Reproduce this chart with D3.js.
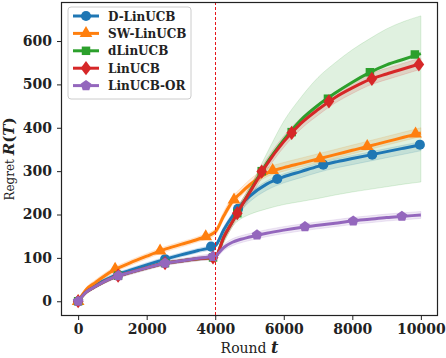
<!DOCTYPE html>
<html>
<head>
<meta charset="utf-8">
<script src="https://cdn.jsdelivr.net/npm/d3@7"></script>
<style>
  body { margin: 0; background: #fff; }
  svg { display: block; }
</style>
</head>
<body>
<div id="chart"></div>
<script>
// rounds where every curve is sampled
let rounds = [0, 250, 500, 1000, 1500, 2000, 2500, 3000, 3500, 4000, 4250, 4500, 4750, 5000, 5500, 6000, 6500, 7000, 7500, 8000, 8500, 9000, 9500, 10000]

let names = ['D-LinUCB', 'SW-LinUCB', 'dLinUCB', 'LinUCB', 'LinUCB-OR']
let colors = ['#1f77b4', '#ff7f0e', '#2ca02c', '#d62728', '#9467bd']
let shapes = ['circle', 'triangle', 'square', 'diamond', 'pentagon']

// mean regret
let dlinMean = [0, 24, 37, 57, 71, 84, 96, 107, 117, 128, 165, 196, 222, 242, 270, 287, 299, 311, 321, 329, 337, 345, 353, 361]
let swMean = [0, 28, 43, 70, 88, 104, 119, 131, 143, 160, 197, 230, 250, 268, 295, 308, 318, 328, 338, 348, 358, 368, 378, 388]
let dlinucbMean = [0, 22, 34, 54, 66, 77, 87, 93, 98, 102, 148, 183, 218, 252, 318, 372, 418, 452, 480, 505, 527, 545, 558, 571]
let linMean = [0, 22, 34, 54, 66, 77, 87, 93, 98, 102, 148, 183, 218, 250, 315, 368, 410, 442, 470, 492, 511, 524, 536, 548]
let orMean = [0, 22, 34, 54, 66, 77, 87, 93, 99, 105, 124, 136, 143, 148, 157, 164, 170, 175, 180, 185, 189, 193, 196, 199]

// shaded bands (lower / upper)
let dlinLo = [0, 20, 33, 52, 66, 79, 91, 102, 112, 123, 156, 184, 209, 229, 256, 273, 285, 297, 307, 315, 323, 331, 339, 347]
let dlinHi = [0, 28, 41, 62, 76, 89, 101, 112, 122, 133, 172, 203, 229, 249, 277, 294, 306, 318, 328, 336, 344, 352, 360, 368]
let swLo = [0, 23, 37, 64, 82, 98, 113, 125, 137, 153, 189, 222, 242, 260, 287, 300, 310, 320, 330, 340, 350, 360, 370, 380]
let swHi = [0, 33, 49, 76, 94, 110, 125, 137, 149, 167, 207, 241, 261, 280, 307, 320, 330, 340, 350, 360, 370, 380, 390, 400]
let dlinucbLo = [0, 18, 30, 50, 62, 73, 83, 89, 94, 98, 135, 172, 190, 200, 213, 223, 230, 237, 245, 252, 258, 264, 270, 275]
let dlinucbHi = [0, 26, 38, 58, 70, 81, 91, 97, 102, 106, 152, 195, 230, 262, 340, 415, 470, 516, 550, 580, 605, 628, 645, 658]
let linLo = [0, 18, 30, 50, 62, 73, 83, 89, 94, 97, 138, 172, 206, 237, 302, 355, 397, 429, 457, 479, 498, 511, 523, 535]
let linHi = [0, 26, 38, 58, 70, 81, 91, 97, 102, 107, 158, 194, 230, 263, 328, 381, 423, 455, 483, 505, 524, 537, 549, 561]
let orLo = [0, 18, 30, 49, 61, 72, 82, 88, 93, 99, 117, 128, 135, 140, 149, 156, 162, 167, 172, 177, 181, 185, 188, 191]
let orHi = [0, 26, 38, 59, 71, 82, 92, 98, 105, 111, 131, 144, 151, 156, 165, 172, 178, 183, 188, 193, 197, 201, 204, 207]

// marker positions
let dlinMarkX = [0, 1166, 2536, 3878, 4665, 5810, 7152, 8580, 9971]
let dlinMarkY = [0, 61, 97, 126, 213, 282, 315, 338, 361]
let swMarkX = [0, 1079, 2391, 3723, 4548, 5676, 7055, 8435, 9845]
let swMarkY = [0, 74, 116, 149, 234, 302, 329, 357, 386]
let dlinucbMarkX = [0, 1166, 2536, 3936, 4644, 5356, 6230, 7289, 8513, 9825]
let dlinucbMarkY = [0, 59, 88, 101, 203, 300, 390, 467, 528, 569]
let linMarkX = [0, 1166, 2536, 3936, 4644, 5356, 6230, 7318, 8571, 9942]
let linMarkY = [0, 59, 88, 101, 203, 299, 388, 461, 513, 546]
let orMarkX = [0, 1175, 2536, 3936, 5219, 6618, 8026, 9446]
let orMarkY = [0, 59, 88, 103, 153, 172, 185, 196]

let xTicks = [0, 2000, 4000, 6000, 8000, 10000]
let yTicks = [0, 100, 200, 300, 400, 500, 600]
let changePoint = 4000

let series = [
  { mean: dlinMean, lo: dlinLo, hi: dlinHi, mx: dlinMarkX, my: dlinMarkY },
  { mean: swMean, lo: swLo, hi: swHi, mx: swMarkX, my: swMarkY },
  { mean: dlinucbMean, lo: dlinucbLo, hi: dlinucbHi, mx: dlinucbMarkX, my: dlinucbMarkY },
  { mean: linMean, lo: linLo, hi: linHi, mx: linMarkX, my: linMarkY },
  { mean: orMean, lo: orLo, hi: orHi, mx: orMarkX, my: orMarkY }
]
series.forEach(function (s, i) {
  s.name = names[i]
  s.color = colors[i]
  s.shape = shapes[i]
})

let width = 446
let height = 358
let margin = { left: 61, right: 8, top: 2, bottom: 42 }

let svg = d3
  .select('#chart')
  .append('svg')
  .attr('width', width)
  .attr('height', height)

let x = d3
  .scaleLinear()
  .domain([-500, 10500])
  .range([margin.left, width - margin.right])
let y = d3
  .scaleLinear()
  .domain([-34, 690])
  .range([height - margin.bottom, margin.top])

svg
  .append('clipPath')
  .attr('id', 'plot-clip')
  .append('rect')
  .attr('x', margin.left)
  .attr('y', margin.top)
  .attr('width', width - margin.left - margin.right)
  .attr('height', height - margin.top - margin.bottom)

let plot = svg.append('g').attr('clip-path', 'url(#plot-clip)')

let area = d3
  .area()
  .x(function (d) { return x(d.r) })
  .y0(function (d) { return y(d.lo) })
  .y1(function (d) { return y(d.hi) })
  .curve(d3.curveMonotoneX)

let line = d3
  .line()
  .x(function (d) { return x(d.r) })
  .y(function (d) { return y(d.v) })
  .curve(d3.curveMonotoneX)

function symbolFor(shape, size) {
  if (shape === 'pentagon') {
    // regular pentagon
    let r = Math.sqrt(size / 2.38)
    let pts = d3.range(5).map(function (k) {
      let a = -Math.PI / 2 + (k * 2 * Math.PI) / 5
      return [r * Math.cos(a), r * Math.sin(a)]
    })
    return 'M' + pts.join('L') + 'Z'
  }
  if (shape === 'diamond') {
    // thin diamond like matplotlib 'D'
    let r = Math.sqrt(size) * 0.75
    return 'M0,' + -r + 'L' + r * 0.75 + ',0L0,' + r + 'L' + -r * 0.75 + ',0Z'
  }
  let types = { circle: d3.symbolCircle, triangle: d3.symbolTriangle, square: d3.symbolSquare }
  return d3.symbol().type(types[shape]).size(size)()
}

let markerSize = { circle: 80, triangle: 70, square: 72, diamond: 90, pentagon: 75 }

// bands first
series.forEach(function (s) {
  let pts = rounds.map(function (r, k) {
    return { r: r, lo: s.lo[k], hi: s.hi[k] }
  })
  plot
    .append('path')
    .datum(pts)
    .attr('d', area)
    .attr('fill', s.color)
    .attr('fill-opacity', 0.15)
    .attr('stroke', s.color)
    .attr('stroke-opacity', 0.15)
    .attr('stroke-width', 1)
})

// lines and markers
series.forEach(function (s) {
  let pts = rounds.map(function (r, k) {
    return { r: r, v: s.mean[k] }
  })
  plot
    .append('path')
    .datum(pts)
    .attr('d', line)
    .attr('fill', 'none')
    .attr('stroke', s.color)
    .attr('stroke-width', 3)
    .attr('stroke-linejoin', 'round')

  plot
    .selectAll('.mk-' + s.shape)
    .data(s.mx.map(function (mx, k) { return { r: mx, v: s.my[k] } }))
    .enter()
    .append('path')
    .attr('class', 'mk-' + s.shape)
    .attr('transform', function (d) {
      return 'translate(' + x(d.r) + ',' + y(d.v) + ')'
    })
    .attr('d', symbolFor(s.shape, markerSize[s.shape]))
    .attr('fill', s.color)
})

// change point, snapped to the pixel grid so it stays bright
let cpx = Math.round(x(changePoint)) + 0.5
svg
  .append('line')
  .attr('x1', cpx)
  .attr('x2', cpx)
  .attr('y1', margin.top)
  .attr('y2', height - margin.bottom)
  .attr('stroke', '#e8141a')
  .attr('stroke-width', 1)
  .attr('stroke-dasharray', '3,2')

// axes
let xAxis = svg
  .append('g')
  .attr('transform', 'translate(0,' + (height - margin.bottom) + ')')
  .call(d3.axisBottom(x).tickValues(xTicks).tickSize(4).tickPadding(4).tickFormat(d3.format('d')))
let yAxis = svg
  .append('g')
  .attr('transform', 'translate(' + margin.left + ',0)')
  .call(d3.axisLeft(y).tickValues(yTicks).tickSize(4).tickPadding(5).tickFormat(d3.format('d')))

;[xAxis, yAxis].forEach(function (a) {
  a.select('.domain').remove()
  a.selectAll('.tick line').attr('stroke', '#222').attr('stroke-width', 1)
  a.selectAll('.tick text')
    .attr('fill', '#222')
    .style('font-family', 'DejaVu Serif')
    .style('font-weight', 'bold')
    .style('font-size', '14px')
})

svg
  .append('rect')
  .attr('x', margin.left + 0.5)
  .attr('y', margin.top + 0.5)
  .attr('width', width - margin.left - margin.right - 1)
  .attr('height', height - margin.top - margin.bottom - 1)
  .attr('fill', 'none')
  .attr('stroke', '#222')
  .attr('stroke-width', 1.2)

// axis labels
let xLabel = svg
  .append('text')
  .attr('x', (margin.left + width - margin.right) / 2)
  .attr('y', 353)
  .attr('text-anchor', 'middle')
  .attr('fill', '#222')
  .style('font-family', 'DejaVu Serif')
xLabel.append('tspan').text('Round ').style('font-size', '14px')
xLabel.append('tspan').text('t').style('font-size', '16px').style('font-weight', 'bold').style('font-style', 'italic')

let yLabel = svg
  .append('text')
  .attr('transform', 'translate(14,' + (margin.top + (height - margin.top - margin.bottom) / 2) + ') rotate(-90)')
  .attr('text-anchor', 'middle')
  .attr('fill', '#222')
  .style('font-family', 'DejaVu Serif')
yLabel.append('tspan').text('Regret ').style('font-size', '12px')
yLabel.append('tspan').text('R').style('font-size', '15px').style('font-weight', 'bold').style('font-style', 'italic')
yLabel.append('tspan').text('(').style('font-size', '15px').style('font-weight', 'bold')
yLabel.append('tspan').text('T').style('font-size', '15px').style('font-weight', 'bold').style('font-style', 'italic')
yLabel.append('tspan').text(')').style('font-size', '15px').style('font-weight', 'bold')

// legend
let legend = svg.append('g').attr('transform', 'translate(68,7)')
legend
  .append('rect')
  .attr('width', 123)
  .attr('height', 92)
  .attr('rx', 3)
  .attr('fill', '#fff')
  .attr('fill-opacity', 0.8)
  .attr('stroke', '#ccc')
  .attr('stroke-width', 1)

let item = legend
  .selectAll('.item')
  .data(series)
  .enter()
  .append('g')
  .attr('class', 'item')
  .attr('transform', function (d, i) {
    return 'translate(0,' + (9 + i * 17.4) + ')'
  })
item
  .append('line')
  .attr('x1', 5)
  .attr('x2', 31)
  .attr('stroke', function (d) { return d.color })
  .attr('stroke-width', 3)
item
  .append('path')
  .attr('transform', 'translate(18,0)')
  .attr('d', function (d) { return symbolFor(d.shape, markerSize[d.shape]) })
  .attr('fill', function (d) { return d.color })
item
  .append('text')
  .attr('x', 40)
  .attr('y', 4.5)
  .attr('fill', '#222')
  .style('font-family', 'DejaVu Serif')
  .style('font-weight', 'bold')
  .style('font-size', '12px')
  .text(function (d) { return d.name })
</script>
</body>
</html>
